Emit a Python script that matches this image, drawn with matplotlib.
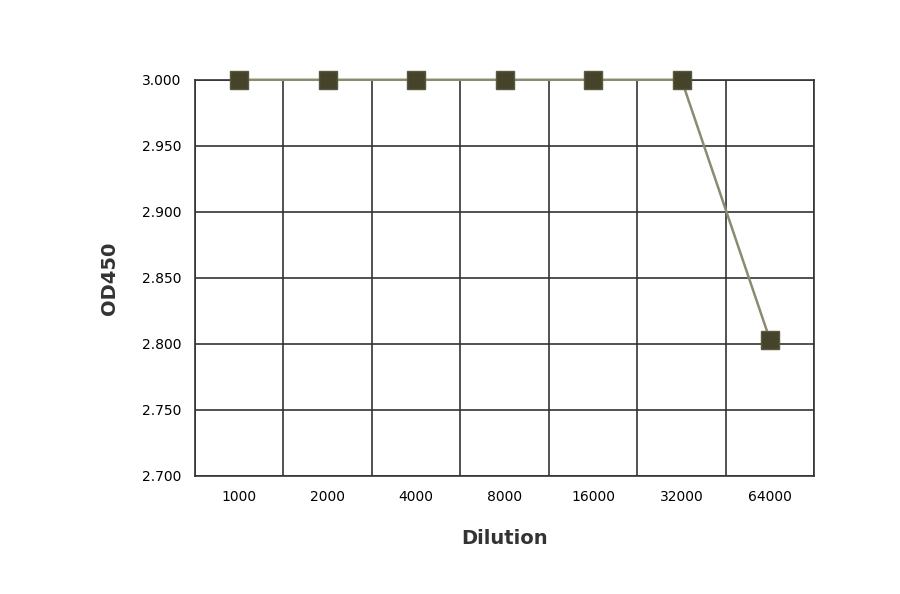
import matplotlib
matplotlib.use('Agg')
from matplotlib import pyplot as plt
import numpy as np

dilutions = ['1000', '2000', '4000', '8000', '16000', '32000', '64000']
od450 = [3.000, 3.000, 3.000, 3.000, 3.000, 3.000, 2.803]
yticks = [2.700, 2.750, 2.800, 2.850, 2.900, 2.950, 3.000]

fig = plt.figure(figsize=(9, 5.94), dpi=100)
ax = fig.add_axes([0.2167, 0.1987, 0.688, 0.667])

x = np.arange(len(dilutions))
ax.plot(x, od450, color='#8a8c70', linewidth=1.8, marker='s', markersize=13,
        markerfacecolor='#45432a', markeredgecolor='#5a5840', clip_on=False, zorder=3)

ax.set_xlim(-0.5, len(dilutions) - 0.5)
ax.set_ylim(2.7, 3.0)
ax.set_yticks(yticks)
ax.set_yticklabels(['%.3f' % v for v in yticks], fontsize=10)
ax.set_xticks(x)
ax.set_xticklabels(dilutions, fontsize=10)
ax.set_xticks(np.arange(len(dilutions) + 1) - 0.5, minor=True)
ax.grid(True, which='minor', axis='x', color='#333333', linewidth=1.2)
ax.grid(True, which='major', axis='y', color='#333333', linewidth=1.2)
ax.tick_params(which='both', length=0, pad=10)
for s in ax.spines.values():
    s.set_color('#333333')
    s.set_linewidth(1.2)

ax.set_xlabel('Dilution', fontsize=14, fontweight='bold', color='#333333', labelpad=18)
ax.set_ylabel('OD450', fontsize=14, fontweight='bold', color='#333333', labelpad=16)

fig.savefig('out.png')
